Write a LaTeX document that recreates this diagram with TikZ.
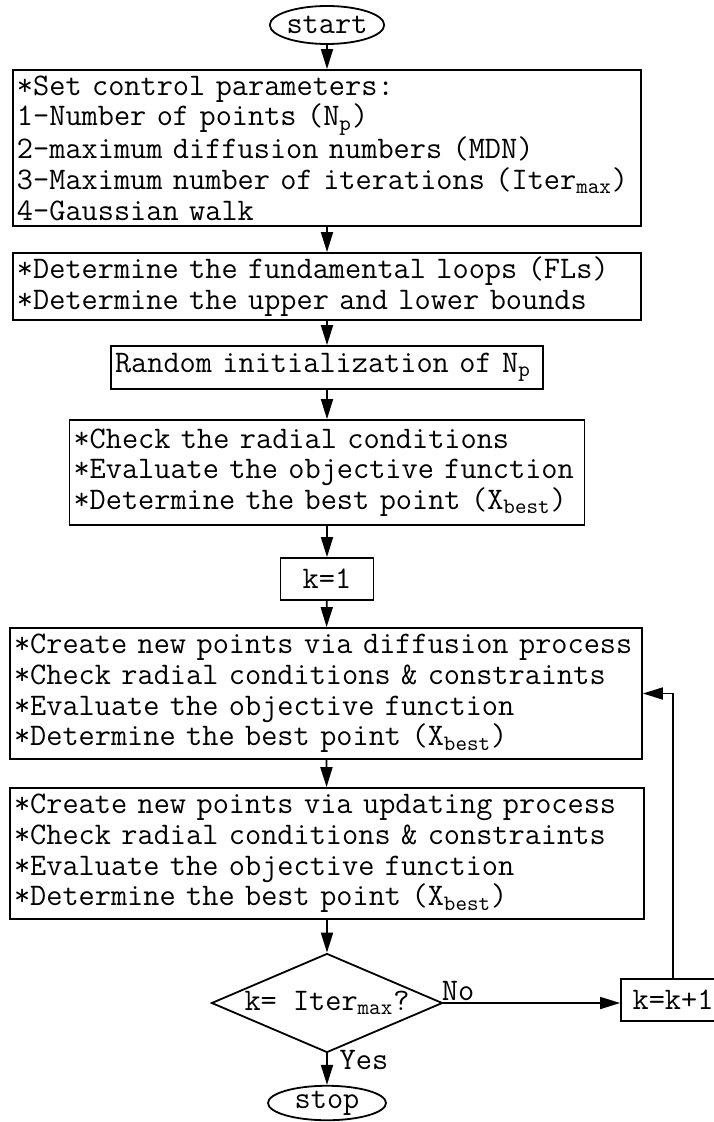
\documentclass[tikz,border=0pt]{standalone}
\usepackage{fontspec}
\setmainfont{Latin Modern Mono}
\usetikzlibrary{shapes.geometric, arrows.meta, positioning}

\begin{document}
\begin{tikzpicture}[x=0.5pt, y=-0.5pt,
		font=\fontsize{15.7}{15.35}\selectfont,
		proc/.style={draw, line width=0.9pt, rectangle, align=left, inner xsep=2pt, inner ysep=0pt},
		term/.style={draw, line width=0.9pt, ellipse, inner sep=0pt},
		flow/.style={line width=0.9pt, -{Triangle[length=10pt, width=6pt]}}]
		\useasboundingbox (0,0) rectangle (713,1122);

		\node[term, minimum width=53pt, minimum height=19pt] (start) at (327,25) {start};
		\node[proc, text width=310pt, minimum height=78pt] (par) at (327,148)
		{*Set control parameters:\\
			1-Number of points (N\textsubscript{p})\\
			2-maximum diffusion numbers (MDN)\\
			3-Maximum number of iterations (Iter\textsubscript{max})\\
			4-Gaussian walk};
		\node[proc, text width=310pt, minimum height=33.5pt] (loops) at (327,286.5)
		{*Determine the fundamental loops (FLs)\\{}%
			*Determine the upper and lower bounds};
		\node[proc, text width=212pt, minimum height=21.5pt] (init) at (327,367.5)
		{Random initialization of N\textsubscript{p}};
		\node[proc, text width=253.5pt, minimum height=52.5pt] (eval) at (327,472.5)
		{*Check the radial conditions\\{}%
			*Evaluate the objective function\\{}%
			*Determine the best point (X\textsubscript{best})};
		\node[draw, line width=0.9pt, minimum width=46.5pt, minimum height=21pt] (kone) at (327,579) {k=1};
		\node[proc, text width=312pt, minimum height=65.5pt] (diff) at (326,693.5)
		{*Create new points via diffusion process\\{}%
			*Check radial conditions \& constraints\\{}%
			*Evaluate the objective function\\{}%
			*Determine the best point (X\textsubscript{best})};
		\node[proc, text width=313pt, minimum height=65.5pt] (upd) at (327,853.5)
		{*Create new points via updating process\\{}%
			*Check radial conditions \& constraints\\{}%
			*Evaluate the objective function\\{}%
			*Determine the best point (X\textsubscript{best})};
		\node[draw, line width=0.9pt, diamond, aspect=2.33, minimum width=115.5pt, minimum height=49.5pt, inner sep=0pt] (dec) at (327,1003)
		{k= Iter\textsubscript{max}?};
		\node[draw, line width=0.9pt, minimum width=52pt, minimum height=21pt] (kinc) at (673,1000) {k=k+1};
		\node[term, minimum width=59pt, minimum height=17pt] (stop) at (327,1103) {stop};
		\node (no) at (458,991) {No};
		\node (yes) at (364,1060) {Yes};

		\draw[flow] (start) -- (par);
		\draw[flow] (par) -- (loops);
		\draw[flow] (loops) -- (init);
		\draw[flow] (init) -- (eval);
		\draw[flow] (eval) -- (kone);
		\draw[flow] (kone) -- (diff);
		\draw[flow] (diff) -- (upd);
		\draw[flow] (upd) -- (dec);
		\draw[flow] (dec) -- (stop);
		\draw[flow] (dec.east) -- (dec.east -| kinc.west);
		\draw[flow] (kinc.north) |- (diff.east);
	\end{tikzpicture}
\end{document}
